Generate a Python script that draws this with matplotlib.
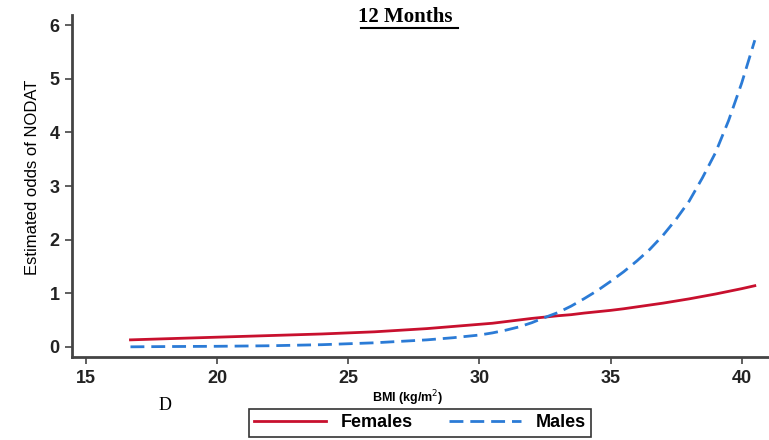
import matplotlib.pyplot as plt
from matplotlib.lines import Line2D

# data
bmi = [16.7, 18, 20, 22, 24, 26, 28, 29, 30, 30.5, 31, 31.5, 32, 32.4, 33, 33.5, 34, 34.5, 35,
       35.5, 36, 36.5, 37, 37.5, 38, 38.5, 39, 39.5, 40, 40.5]
females = [0.13, 0.15, 0.18, 0.21, 0.24, 0.28, 0.34, 0.38, 0.42, 0.44, 0.47, 0.50, 0.53, 0.55, 0.58,
           0.60, 0.63, 0.655, 0.68, 0.71, 0.745, 0.78, 0.815, 0.855, 0.895, 0.94, 0.985, 1.035, 1.085, 1.14]
males = [0.0, 0.005, 0.01, 0.02, 0.04, 0.075, 0.13, 0.17, 0.22, 0.26, 0.31, 0.37, 0.45, 0.53, 0.64,
         0.76, 0.9, 1.05, 1.22, 1.4, 1.6, 1.82, 2.08, 2.38, 2.72, 3.15, 3.62, 4.22, 4.92, 5.72]
xticks = [15, 20, 25, 30, 35, 40]
yticks = [0, 1, 2, 3, 4, 5, 6]

fig = plt.figure(figsize=(7.69, 4.40), dpi=100)
ax = fig.add_axes([0.0936, 0.1886, 0.905, 0.7773])

ax.plot(bmi, females, color='#c8102e', lw=2, label='Females')
ax.plot(bmi, males, color='#2b7bd6', lw=2, ls=(0, (5, 2.5)), label='Males')

ax.set_xlim(14.47, 41.0)
ax.set_ylim(-0.19, 6.19)
ax.set_xticks(xticks)
ax.set_yticks(yticks)

for s in ['top', 'right']:
    ax.spines[s].set_visible(False)
for s in ['left', 'bottom']:
    ax.spines[s].set_color('#444444')
    ax.spines[s].set_linewidth(2)
ax.tick_params(direction='out', length=5, width=1.2, color='#444444', pad=4)
for lab in ax.get_xticklabels() + ax.get_yticklabels():
    lab.set_family('Liberation Sans')
    lab.set_fontweight('bold')
    lab.set_fontsize(13)
    lab.set_color('#222222')

ax.set_ylabel('Estimated odds of NODAT', family='Liberation Sans', fontsize=12)
ax.yaxis.set_label_coords(-0.046, 0.526)

# legend box below the axes
leg = fig.legend(loc='center', bbox_to_anchor=(0.546, 0.039), ncol=2, frameon=True,
                 fancybox=False, edgecolor='black', handlelength=4.0, columnspacing=2.0,
                 handletextpad=0.8,
                 prop={'family': 'Liberation Sans', 'weight': 'bold', 'size': 13},
                 borderpad=0.3, borderaxespad=0)
leg.get_frame().set_linewidth(1.2)

# x label sits over the legend frame
fig.text(0.53, 0.095, 'BMI (kg/m$^2$)', ha='center', va='center', family='Liberation Sans',
         fontsize=9, fontweight='bold',
         bbox=dict(facecolor='white', edgecolor='none', pad=5), zorder=5)

fig.text(0.215, 0.079, 'D', ha='center', va='center', family='Liberation Serif', fontsize=13)

# underlined title
fig.text(0.527, 0.962, '12 Months', ha='center', va='center', family='Liberation Serif',
         fontsize=15, fontweight='bold')
fig.add_artist(Line2D([0.469, 0.595], [0.936, 0.936], color='black', lw=1.5))

fig.savefig('out.png', dpi=100)
